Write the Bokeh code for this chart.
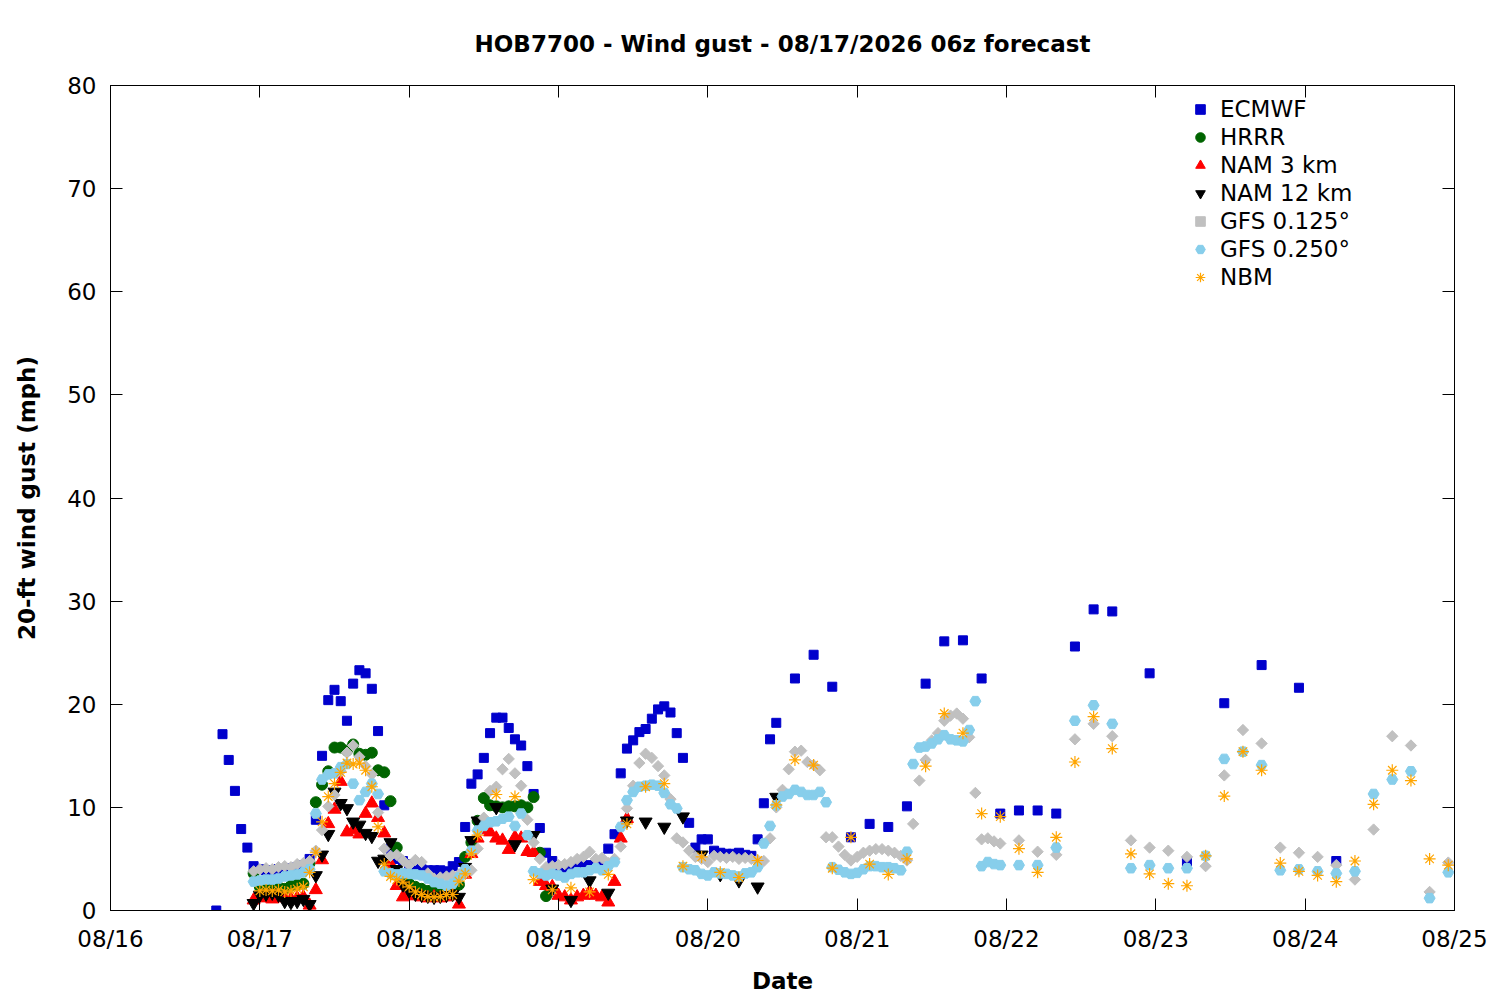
import numpy as np
from datetime import datetime, timedelta
from bokeh.plotting import figure
from bokeh.models import (Range1d, FixedTicker, DatetimeTickFormatter, DatetimeAxis,
                          LinearAxis, Legend, LegendItem)
from bokeh.embed import file_html
from bokeh.resources import INLINE

# ---------------- data (forecast hours counted from 08/16 00:00) ----------------
BASE = datetime(2026, 8, 16)
TITLE = "HOB7700 - Wind gust - 08/17/2026 06z forecast"

ecmwf_hours = list(range(17, 108)) + list(range(110, 162, 3)) + list(range(167, 198, 6))
ecmwf = [0.0, 17.1, 14.6, 11.6, 7.9, 6.1,                                   # 17-22
         4.3, 4.0, 3.9, 3.9, 4.0, 4.0, 4.1, 4.2, 4.4, 5.0,                  # 23-32
         8.8, 15.0, 20.4, 21.4, 20.3, 18.4, 22.0, 23.3, 23.0, 21.5,         # 33-42
         17.4, 10.2, 6.0, 5.0, 4.8, 4.5, 4.2, 4.0, 3.9, 3.9,                # 43-52
         3.9, 3.8, 4.3, 4.7, 8.1, 12.3, 13.2, 14.8, 17.2, 18.7,             # 53-62
         18.7, 17.7, 16.6, 16.0, 14.0, 11.3, 8.0, 5.6, 4.8, 3.7,            # 63-72
         3.8, 3.9, 4.2, 4.3, 4.4, 4.3, 4.3, 6.0, 7.4, 13.3,                 # 73-82
         15.7, 16.5, 17.3, 17.6, 18.6, 19.5, 19.8, 19.2, 17.2, 14.8,        # 83-92
         8.5, 6.1, 6.9, 6.9, 5.8, 5.6, 5.5, 5.5, 5.6, 5.4,                  # 93-102
         5.3, 6.9, 10.4, 16.6, 18.2,                                        # 103-107
         22.5, 24.8, 21.7, 7.1, 8.4, 8.1, 10.1, 22.0, 26.1, 26.2,           # 110-137
         22.5, 9.4, 9.7, 9.7, 9.4, 25.6, 29.2, 29.0,                        # 140-161
         23.0, 4.7, 20.1, 23.8, 21.6, 4.8]                                  # 167-197

hrrr_hours = list(range(23, 71))
hrrr = [3.6, 2.3, 2.2, 2.4, 2.3, 2.1, 2.4, 2.5, 2.6, 4.6,                   # 23-32
        10.5, 12.2, 13.5, 15.8, 15.8, 15.5, 16.1, 15.2, 15.1, 15.3,         # 33-42
        13.6, 13.4, 10.6, 6.1, 3.5, 2.6, 2.3, 2.1, 1.9, 1.8,                # 43-52
        1.8, 1.9, 2.2, 2.5, 5.2, 6.6, 8.7, 10.9, 10.2, 10.1,                # 53-62
        10.0, 10.1, 10.1, 10.2, 10.0, 11.0, 5.6, 1.4]                       # 63-70

nam3_hours = list(range(23, 84))
nam3 = [1.0, 1.2, 1.3, 1.1, 1.2, 1.3, 1.1, 1.2, 1.3, 0.5,                   # 23-32
        2.0, 4.9, 8.4, 9.8, 12.5, 7.6, 7.8, 7.4, 9.4, 10.4,                 # 33-42
        9.0, 7.5, 4.5, 2.4, 1.3, 1.5, 1.4, 1.3, 1.2, 1.3,                   # 43-52
        1.2, 1.3, 1.4, 0.6, 3.5, 5.5, 7.0, 7.8, 7.6, 7.0,                   # 53-62
        6.8, 5.9, 7.1, 7.0, 5.7, 5.6, 2.8, 2.4, 2.3, 1.45,                  # 63-72
        1.3, 1.0, 1.3, 1.45, 1.8, 1.45, 1.3, 0.8, 2.8, 7.0,                 # 73-82
        8.9]                                                                # 83

nam12_hours = list(range(23, 60)) + list(range(62, 108, 3))
nam12 = [0.7, 1.5, 1.6, 1.7, 1.5, 0.9, 0.8, 0.9, 1.1, 0.6,                  # 23-32
         3.4, 5.4, 7.4, 11.5, 10.4, 9.9, 8.6, 8.3, 7.5, 7.2,                # 33-42
         4.8, 5.0, 6.6, 4.0, 2.5, 1.9, 1.6, 1.5, 1.4, 1.3,                  # 43-52
         1.4, 1.5, 1.6, 1.3, 4.2, 6.8, 8.7,                                 # 53-59
         10.0, 6.4, 7.3, 2.1, 1.0, 2.9, 1.7, 8.7, 8.6, 8.1,                 # 62-89
         9.1, 5.4, 3.5, 2.9, 2.3, 11.0]                                     # 92-107

gfs125_hours = list(range(23, 144)) + list(range(146, 216, 3))
gfs125 = [3.8, 4.0, 4.1, 4.0, 4.2, 4.3, 4.2, 4.5, 4.6, 4.8,                 # 23-32
          5.8, 7.8, 10.1, 11.2, 13.5, 15.3, 16.0, 14.9, 14.0, 13.2,         # 33-42
          9.5, 6.0, 5.3, 5.4, 4.85, 4.4, 4.9, 4.7, 3.6, 3.1,                # 43-52
          3.2, 3.3, 3.4, 3.5, 3.6, 3.9, 6.0, 9.0, 11.6, 12.0,               # 53-62
          13.7, 14.7, 13.3, 12.1, 8.8, 6.6, 5.0, 4.2, 4.3, 4.4,             # 63-72
          4.5, 4.7, 5.0, 5.2, 5.7, 5.0, 5.1, 4.6, 5.0, 6.2,                 # 73-82
          9.9, 12.1, 14.3, 15.2, 14.8, 14.0, 13.1, 10.8, 7.0, 6.6,          # 83-92
          5.8, 5.2, 5.0, 4.7, 5.3, 5.2, 5.1, 5.2, 5.0, 5.1,                 # 93-102
          5.0, 4.9, 4.8, 7.0, 10.0, 11.7, 13.7, 15.4, 15.5, 14.4,           # 103-112
          14.1, 13.6, 7.1, 7.1, 6.2, 5.4, 4.85, 5.2, 5.6, 5.8,              # 113-122
          5.95, 5.95, 5.8, 5.6, 5.3, 4.85, 8.4, 12.6, 14.6, 16.5,           # 123-132
          17.2, 18.4, 18.9, 19.1, 18.6, 16.8, 11.4, 6.9, 7.0, 6.7,          # 133-142
          6.5,                                                              # 143
          6.8, 5.7, 5.4, 16.6, 18.1, 16.9, 6.8, 6.1, 5.8, 5.2,              # 146-173
          4.3, 13.1, 17.5, 16.2, 6.1, 5.6, 5.2, 4.4, 3.0, 7.85,             # 176-203
          16.9, 16.0, 1.8, 4.65]                                            # 206-215

gfs250_hours = list(range(23, 144)) + list(range(146, 216, 3))
gfs250 = [2.8, 2.9, 3.0, 3.0, 3.1, 3.3, 3.4, 3.5, 3.7, 4.0,                 # 23-32
          9.4, 12.7, 13.2, 13.3, 13.9, 14.2, 12.3, 10.7, 11.5, 12.3,        # 33-42
          11.3, 3.8, 3.6, 3.5, 3.6, 3.55, 3.5, 3.4, 3.1, 2.75,              # 43-52
          2.6, 2.4, 2.6, 3.2, 4.0, 5.8, 7.75, 8.2, 8.55, 8.65,              # 53-62
          8.9, 9.1, 8.2, 9.4, 7.3, 3.8, 3.6, 3.4, 3.55, 3.4,                # 63-72
          3.2, 3.55, 3.7, 3.7, 3.9, 4.1, 3.9, 4.3, 4.7, 8.1,                # 73-82
          10.7, 11.5, 12.0, 12.1, 12.2, 12.1, 11.4, 10.3, 9.9, 4.2,         # 83-92
          4.0, 3.9, 3.55, 3.4, 3.7, 3.6, 3.55, 3.4, 3.3, 3.6,               # 93-102
          3.7, 4.2, 6.5, 8.2, 10.2, 11.05, 11.3, 11.7, 11.5, 11.2,          # 103-112
          11.2, 11.5, 10.5, 4.2, 3.95, 3.7, 3.55, 3.65, 4.0, 4.3,           # 113-122
          4.3, 4.2, 4.2, 4.1, 3.9, 5.7, 14.2, 15.8, 15.9, 16.2,             # 123-132
          16.6, 17.0, 16.6, 16.5, 16.4, 17.5, 20.3, 4.3, 4.7, 4.5,          # 133-142
          4.4,                                                              # 143
          4.4, 4.4, 6.1, 18.4, 19.9, 18.1, 4.1, 4.4, 4.1, 4.1,              # 146-173
          5.3, 14.7, 15.4, 14.1, 3.9, 4.0, 3.8, 3.6, 3.8, 11.3,             # 176-203
          12.7, 13.5, 1.2, 3.7]                                             # 206-215

nbm_hours = list(range(24, 60)) + list(range(62, 216, 3))
nbm = [1.9, 2.0, 1.9, 2.0, 1.8, 1.9, 2.1, 2.3, 3.7, 5.65,                   # 24-33
       8.6, 11.05, 12.3, 13.4, 14.3, 14.2, 14.3, 13.6, 12.0, 8.1,           # 34-43
       4.5, 3.3, 3.0, 2.75, 2.3, 1.8, 1.55, 1.35, 1.3, 1.35,                # 44-53
       1.55, 1.55, 2.85, 3.55, 5.5, 7.3,                                    # 54-59
       11.25, 11.05, 3.0, 2.0, 2.2, 1.8, 3.5, 8.4, 12.0, 12.3,              # 62-89
       4.3, 5.2, 3.7, 3.2, 4.85, 10.25, 14.6, 14.1, 4.1, 7.1,               # 92-119
       4.5, 3.5, 5.0, 14.0, 19.1, 17.2, 9.4, 9.1, 6.0, 3.7,                 # 122-149
       7.1, 14.4, 18.8, 15.7, 5.5, 3.55, 2.6, 2.4, 5.3, 11.1,               # 152-179
       15.4, 13.6, 4.6, 3.8, 3.4, 2.8, 4.8, 10.3, 13.6, 12.6,               # 182-209
       5.0, 4.4]                                                            # 212-215

tick_days = list(range(16, 26))
y_ticks = list(range(0, 90, 10))

FONT = "DejaVu Sans"
FS = "23px"


def to_time(hours):
    return [BASE + timedelta(hours=h) for h in hours]


def ms(d):
    return (d - datetime(1970, 1, 1)).total_seconds() * 1000.0


p = figure(width=1500, height=1000, output_backend="svg", toolbar_location=None,
           x_axis_type="datetime",
           x_range=Range1d(ms(datetime(2026, 8, 16)), ms(datetime(2026, 8, 25))),
           y_range=Range1d(0, 80),
           min_border_left=110, min_border_right=46, min_border_top=85, min_border_bottom=90)

p.title.text = TITLE
p.title.align = "center"
p.title.vertical_align = "middle"
p.title.text_font = FONT
p.title.text_font_size = FS
p.title.text_font_style = "bold"
p.title.text_color = "black"
p.title.standoff = 55

p.grid.visible = False
p.outline_line_color = "black"
p.outline_line_width = 1
p.background_fill_color = "white"
p.border_fill_color = "white"

xt = FixedTicker(ticks=[ms(datetime(2026, 8, d)) for d in tick_days])
yt = FixedTicker(ticks=y_ticks)
fmt = DatetimeTickFormatter(days="%m/%d", hours="%m/%d", hourmin="%m/%d", months="%m/%d",
                            minutes="%m/%d", minsec="%m/%d", seconds="%m/%d",
                            milliseconds="%m/%d", microseconds="%m/%d", years="%m/%d")


def style_axis(ax, label=True):
    ax.major_tick_in = 12
    ax.major_tick_out = 0
    ax.minor_tick_line_color = None
    ax.axis_line_color = "black"
    ax.major_tick_line_color = "black"
    ax.major_label_text_font = FONT
    ax.major_label_text_color = "black"
    ax.axis_label_text_font = FONT
    ax.axis_label_text_font_size = FS
    ax.axis_label_text_font_style = "bold"
    ax.axis_label_text_color = "black"
    if label:
        ax.major_label_text_font_size = FS
    else:
        ax.major_label_text_font_size = "1px"
        ax.major_label_text_alpha = 0
        ax.major_label_standoff = 0


xa = p.xaxis[0]
xa.ticker = xt
xa.formatter = fmt
xa.axis_label = "Date"
style_axis(xa)
xa.major_label_standoff = 15
xa.axis_label_standoff = 13

ya = p.yaxis[0]
ya.ticker = yt
ya.axis_label = "20-ft wind gust (mph)"
style_axis(ya)
ya.major_label_standoff = 14
ya.axis_label_standoff = 24

top = DatetimeAxis(ticker=xt, formatter=fmt)
style_axis(top, label=False)
p.add_layout(top, "above")
right = LinearAxis(ticker=yt)
style_axis(right, label=False)
p.add_layout(right, "right")

series = [
    ("ECMWF", ecmwf_hours, ecmwf, dict(marker="square", size=9, fill_color="#0000CC", line_color="#0000CC")),
    ("HRRR", hrrr_hours, hrrr, dict(marker="circle", size=11, fill_color="#006400", line_color="#006400")),
    ("NAM 3 km", nam3_hours, nam3, dict(marker="triangle", size=13, fill_color="#FF0000", line_color="#FF0000")),
    ("NAM 12 km", nam12_hours, nam12, dict(marker="inverted_triangle", size=13, fill_color="black", line_color="black")),
    ("GFS 0.125°", gfs125_hours, gfs125, dict(marker="square", size=8, angle=np.pi / 4, fill_color="#C0C0C0", line_color="#C0C0C0")),
    ("GFS 0.250°", gfs250_hours, gfs250, dict(marker="hex", size=11, fill_color="#87CEEB", line_color="#87CEEB")),
    ("NBM", nbm_hours, nbm, dict(marker="asterisk", size=12, line_color="#FFA500", line_width=1.2)),
]

items = []
for name, hrs, vals, style in series:
    assert len(hrs) == len(vals), (name, len(hrs), len(vals))
    r = p.scatter(x=to_time(hrs), y=vals, **style)
    items.append(LegendItem(label=name, renderers=[r]))

legend = Legend(items=items, location=(1078, 619))
legend.label_text_font = FONT
legend.label_text_font_size = FS
legend.label_text_color = "black"
legend.label_height = 28
legend.glyph_height = 28
legend.glyph_width = 24
legend.spacing = 0
legend.padding = 0
legend.margin = 0
legend.label_standoff = 8
legend.border_line_color = None
legend.background_fill_alpha = 0
p.add_layout(legend)

open("out.html", "w").write(file_html(p, INLINE))
